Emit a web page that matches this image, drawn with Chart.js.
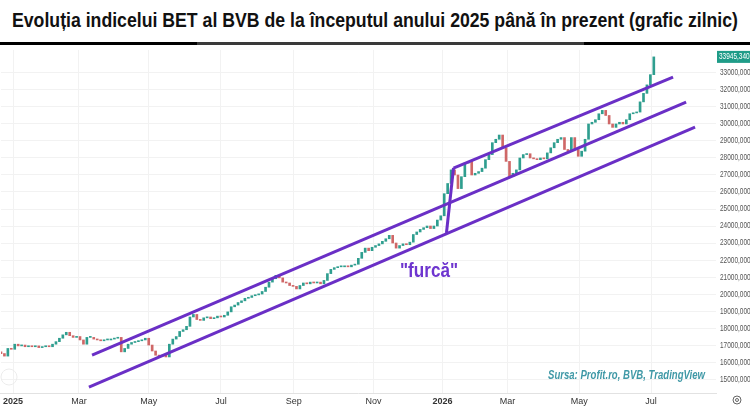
<!DOCTYPE html>
<html>
<head>
<meta charset="utf-8">
<script src="https://cdn.jsdelivr.net/npm/chart.js@4.4.1/dist/chart.umd.min.js"></script>
<style>
  body { margin: 0; background: #fff; width: 750px; height: 407px; overflow: hidden; position: relative; font-family: "Liberation Sans", Arial, sans-serif; }
  #title { position: absolute; left: 12px; top: 8px; font-weight: bold; font-size: 21px; white-space: nowrap; transform-origin: 0 0; color: #111; }
  #rule { position: absolute; left: 0; top: 42px; width: 750px; height: 3px; background: linear-gradient(to right, #000 0, #000 197px, #3a3a3a 197px, #3a3a3a 584px, #000 584px); }
  #wrap { position: absolute; left: 0; top: 47px; }
</style>
</head>
<body>
<div id="title"><span id="tt">Evoluția indicelui BET al BVB de la începutul anului 2025 până în prezent (grafic zilnic)</span></div>
<div id="rule"></div>
<div id="wrap"><canvas id="c" width="750" height="360"></canvas></div>
<script>
// closing values, one candle per two trading days (Jan 2025 - Jul 2026)
const closes = [
  16500, 16350, 16800, 16750, 17050, 16950, 17000, 16900, 16950, 16900,
  16950, 16850, 16900, 16950, 16900, 17050, 17200, 17400, 17600, 17750,
  17550, 17450, 17500, 17300, 17050, 17450, 17450, 17350, 17300, 17250,
  17300, 17300, 17350, 17400, 17450, 16600, 16800, 17050, 17150, 17200,
  17250, 17300, 17400, 17000, 16650, 16400, 16350, 16400, 16300, 17050,
  17350, 17500, 17800, 17900, 18100, 18650, 18800, 18500, 18450, 18600,
  18650, 18550, 18600, 18700, 18650, 18750, 18950, 19250, 19350, 19500,
  19600, 19750, 19800, 19900, 19950, 20000, 20150, 20400, 20700, 20900,
  21100, 20950, 20700, 20650, 20500, 20450, 20300, 20500, 20650, 20600,
  20700, 20650, 20700, 20600, 20800, 21200, 21450, 21550, 21600, 21600,
  21650, 21600, 21700, 21750, 22100, 22450, 22700, 22550, 22750, 22850,
  22950, 23100, 23250, 23450, 23000, 22700, 22850, 22950, 22900, 23050,
  23500, 23650, 23800, 23900, 24000, 23850, 24000, 24350, 24600, 25900,
  26500, 27300, 27000, 26200, 26900, 27700, 27800, 27000, 27100, 27200,
  27400, 27900, 28200, 28900, 29100, 29350, 28600, 27800, 26900, 27100,
  27300, 28000, 28200, 28250, 28000, 27950, 27900, 28000, 27950, 28300,
  28600, 28900, 29100, 29200, 28500, 28400, 29200, 28500, 28100, 28400,
  29100, 30000, 30100, 30250, 30600, 30800, 30500, 30000, 29800, 30000,
  30100, 30000, 30250, 30600, 30650, 30700, 31300, 31800, 32300, 32900, 33945
];
const firstOpen = 16600;
const lastPrice = "33945,3400";

const tickPos = [3.5, 22.7, 43, 64, 85.2, 108.4, 128.5, 147.4, 168.3, 189.2];
const tickLabels = ["2025", "Mar", "May", "Jul", "Sep", "Nov", "2026", "Mar", "May", "Jul"];
const yTicks = [15000, 16000, 17000, 18000, 19000, 20000, 21000, 22000, 23000, 24000,
  25000, 26000, 27000, 28000, 29000, 30000, 31000, 32000, 33000];

// channel lines [x, value]
const middleLine = [[26.5, 16410], [199.4, 31290]];
const lowerLine = [[25.6, 14530], [202, 29820]];
const upperLine = [[131.7, 27410], [195.6, 32760]];
const forkLine = [[129.65, 23590], [131.7, 27410]];

// fit title width
const tt = document.getElementById("tt");
const tw = tt.getBoundingClientRect().width;
document.getElementById("title").style.transform = `scaleX(${726 / tw})`;

const up = "#2f9e8f";
const down = "#cf6767";
const purple = "#6a2fc6";

const opens = closes.map((c, i) => (i ? closes[i - 1] : firstOpen));
const candles = closes.map((c, i) => ({ x: i, y: [opens[i], c] }));
const colors = closes.map((c, i) => (c >= opens[i] ? up : down));

const lineDs = (pts) => ({
  type: "line",
  data: pts.map((p) => ({ x: p[0], y: p[1] })),
  borderColor: purple,
  borderWidth: 3,
  pointRadius: 0,
  fill: false,
  order: 1,
});

const fitText = (ctx, txt, x, y, target, align) => {
  const w = ctx.measureText(txt).width;
  ctx.save();
  ctx.translate(x, y);
  ctx.scale(target / w, 1);
  ctx.textAlign = align;
  ctx.fillText(txt, 0, 0);
  ctx.restore();
};

const extras = {
  id: "extras",
  afterDraw(chart) {
    const ctx = chart.ctx;
    const { right } = chart.chartArea;
    const ys = chart.scales.y;

    ctx.save();
    // y labels, squeezed like the screenshot
    ctx.fillStyle = "#555";
    ctx.font = '9px "Liberation Sans", Arial';
    ctx.textBaseline = "middle";
    yTicks.forEach((v) => {
      const y = ys.getPixelForValue(v);
      ctx.save();
      ctx.translate(right + 4, y);
      ctx.scale(0.72, 1);
      ctx.fillText(v + ",0000", 0, 0);
      ctx.restore();
    });

    // price label
    const py = ys.getPixelForValue(closes[closes.length - 1]);
    ctx.fillStyle = "#1f9c88";
    ctx.fillRect(right + 1, py - 6, 40, 12);
    ctx.fillStyle = "#fff";
    ctx.save();
    ctx.translate(right + 3, py);
    ctx.scale(0.72, 1);
    ctx.fillText(lastPrice, 0, 0);
    ctx.restore();

    // annotation
    ctx.fillStyle = "#6e35cf";
    ctx.font = 'bold 20px "Liberation Sans", Arial';
    fitText(ctx, '"furcă"', 400, 224, 58, "left");

    // source
    ctx.fillStyle = "#3f98a6";
    ctx.font = 'italic bold 13px "Liberation Sans", Arial';
    fitText(ctx, "Sursa: Profit.ro, BVB, TradingView", 548, 328, 157, "left");

    // settings icon
    ctx.strokeStyle = "#666";
    ctx.lineWidth = 1;
    ctx.beginPath();
    ctx.arc(737, 353, 4, 0, Math.PI * 2);
    ctx.stroke();
    ctx.beginPath();
    ctx.arc(737, 353, 1.5, 0, Math.PI * 2);
    ctx.stroke();

    // faint logo circle
    ctx.strokeStyle = "#ececec";
    ctx.beginPath();
    ctx.arc(9, 330, 8, 0, Math.PI * 2);
    ctx.stroke();
    ctx.restore();
  },
};

new Chart(document.getElementById("c"), {
  type: "bar",
  data: {
    datasets: [
      {
        data: candles,
        backgroundColor: colors,
        barThickness: 2,
        minBarLength: 1,
        order: 2,
      },
      lineDs(middleLine),
      lineDs(lowerLine),
      lineDs(upperLine),
      lineDs(forkLine),
    ],
  },
  options: {
    responsive: false,
    animation: false,
    devicePixelRatio: 1,
    layout: { padding: { top: 3, left: 0, right: 0, bottom: 0 } },
    plugins: { legend: { display: false }, tooltip: { enabled: false } },
    scales: {
      x: {
        type: "linear",
        offset: false,
        min: 0,
        max: 208.1,
        afterBuildTicks: (s) => {
          s.ticks = tickPos.map((v) => ({ value: v }));
        },
        afterFit: (s) => {
          s.height = 14;
        },
        grid: { color: "#f2f2f2", drawTicks: false, offset: false },
        border: { color: "#e2e2e2" },
        ticks: {
          padding: 3,
          color: "#333",
          maxRotation: 0,
          autoSkip: false,
          font: (c) => ({
            size: 9,
            family: '"Liberation Sans", Arial',
            weight: /^\d/.test(tickLabels[c.index] || "") ? "bold" : "normal",
          }),
          callback: (v, i) => tickLabels[i],
        },
      },
      y: {
        position: "right",
        min: 14180,
        max: 34350,
        afterBuildTicks: (s) => {
          s.ticks = yTicks.map((v) => ({ value: v }));
        },
        afterFit: (s) => {
          s.width = 34;
        },
        grid: { color: "#f2f2f2", drawTicks: false },
        border: { display: false },
        ticks: { display: false },
      },
    },
  },
  plugins: [extras],
});
</script>
</body>
</html>
